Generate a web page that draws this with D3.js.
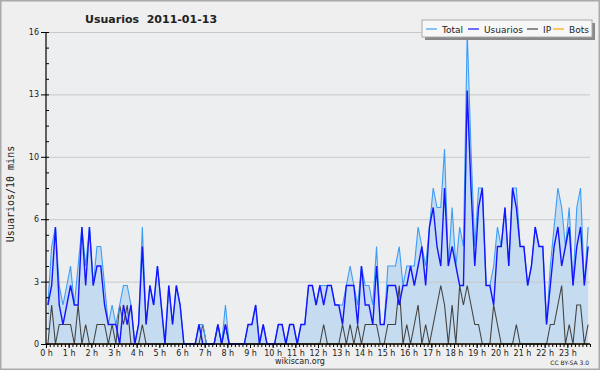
<!DOCTYPE html>
<html>
<head>
<meta charset="utf-8">
<script src="https://cdnjs.cloudflare.com/ajax/libs/d3/7.8.5/d3.min.js"></script>
<style>
  body { margin: 0; background: #fff; }
  svg { display: block; }
  text { font-family: "DejaVu Sans", sans-serif; fill: #222; }
</style>
</head>
<body>
<div id="chart"></div>
<script>
// users per 10 minutes, 2011-01-13 (144 slots, 0:00 .. 23:50)
var total = [2,5,6,3,2,3,4,2,4,6, 4,6,3,5,5,3,1,2,1,2, 3,3,2,0,1,6,1,3,2,4,
             2,0,3,1,3,2,0,0,0,0, 1,1,0,0,0,1,0,2,0,0, 0,0,0,1,1,2,0,1,0,0,
             0,1,1,0,1,1,0,1,1,3, 3,2,3,3,3,3,2,2,2,3, 4,3,2,4,3,3,2,5,1,1,
             4,4,4,5,3,4,4,4,6,5, 4,6,8,7,7,10,4,7,4,6, 5,16,10,5,8,8,3,3,4,6,
             5,7,4,8,8,5,5,3,4,6, 5,5,1,4,6,8,7,5,7,3, 7,8,3,6];
var usuarios = [2,3,6,2,1,2,3,2,2,6, 3,6,3,4,4,2,1,1,1,0, 2,1,2,0,1,5,1,3,2,4,
                2,0,3,1,3,2,0,0,0,0, 1,0,0,0,0,1,0,1,0,0, 0,0,0,1,1,2,0,1,0,0,
                0,1,1,0,1,1,0,1,1,3, 3,2,3,2,3,3,2,2,1,3, 3,3,1,4,2,2,1,4,1,1,
                3,3,3,2,3,3,4,3,4,5, 3,6,7,5,4,8,4,5,4,3, 3,13,8,4,7,8,3,3,2,5,
                5,7,4,8,7,5,5,3,4,6, 5,5,1,3,5,6,4,5,6,3, 5,6,3,5];
var ip = [0,2,0,1,1,1,1,0,2,0, 1,0,0,1,1,1,0,1,0,2, 1,2,0,0,0,1,0,0,0,0,
          0,0,0,0,0,0,0,0,0,0, 0,1,0,0,0,1,0,1,0,0, 0,0,0,0,0,0,0,0,0,0,
          0,0,0,0,0,0,0,0,0,0, 0,0,0,1,0,0,0,0,1,0, 1,0,1,0,1,1,1,1,0,0,
          1,1,1,3,0,1,0,1,2,0, 1,0,1,2,3,2,0,2,0,3, 2,3,2,1,1,0,0,0,2,1,
          0,0,0,0,1,0,0,0,0,0, 0,0,0,1,1,2,3,0,1,0, 2,2,0,1];
var bots = [0,0,0,0,0,0,0,0,0,0, 0,0,0,0,0,0,0,0,0,0, 0,0,0,0,0,0,0,0,0,0,
            0,0,0,0,0,0,0,0,0,0, 0,0,0,0,0,0,0,0,0,0, 0,0,0,0,0,0,0,0,0,0,
            0,0,0,0,0,0,0,0,0,0, 0,0,0,0,0,0,0,0,0,0, 0,0,0,0,0,0,0,0,0,0,
            0,0,0,0,0,0,0,0,0,0, 0,0,0,0,0,0,0,0,0,0, 0,0,0,0,0,0,0,0,0,0,
            0,0,0,0,0,0,0,0,0,0, 0,0,0,0,0,0,0,0,0,0, 0,0,0,0];

var hourLabels = ["0 h","1 h","2 h","3 h","4 h","5 h","6 h","7 h","8 h","9 h","10 h","11 h",
                  "12 h","13 h","14 h","15 h","16 h","17 h","18 h","19 h","20 h","21 h","22 h","23 h"];
var yTickValues = [0, 3.2, 6.4, 9.6, 12.8, 16];
var yTickLabels = ["0", "3", "6", "10", "13", "16"];
var seriesNames = ["Total", "Usuarios", "IP", "Bots"];

var W = 600, H = 370;
var margin = { top: 32, right: 10, bottom: 26, left: 46 },
    width = W - margin.left - margin.right,
    height = H - margin.top - margin.bottom;

var color = d3.scaleOrdinal()
    .domain(seriesNames)
    .range(["#3d9df5", "#1414ff", "#444444", "#ffa500"]);

var svg = d3.select("#chart")
    .append("svg")
    .attr("width", W)
    .attr("height", H);

// outer background + frame
svg.append("rect")
    .attr("x", 0.75).attr("y", 0.75)
    .attr("width", W - 1.5).attr("height", H - 1.5)
    .attr("fill", "#efefef")
    .attr("stroke", "#aaaaaa")
    .attr("stroke-width", 1.5);

var g = svg.append("g")
    .attr("transform", "translate(" + margin.left + "," + margin.top + ")");

// plot area background
g.append("rect")
    .attr("width", width).attr("height", height)
    .attr("fill", "#eceef0");

// x in 10 minute slots, points sit in the middle of each slot
var x = d3.scaleLinear().domain([0, 144]).range([0, width]);
var y = d3.scaleLinear().domain([0, 16]).range([height, 0]);

// filled area under Total
g.append("path")
    .datum(total)
    .attr("fill", "#c5dcf0")
    .attr("d", d3.area()
        .x(function (d, i) { return x(i + 0.5); })
        .y0(height)
        .y1(function (d) { return y(d); }));

// horizontal gridlines
g.append("g")
    .attr("class", "grid")
    .call(d3.axisLeft(y)
        .tickValues(yTickValues.slice(1))
        .tickSize(-width)
        .tickFormat(""))
    .call(function (s) {
        s.select(".domain").remove();
        s.selectAll("line").attr("stroke", "#c8c8c8");
    });

// lines (bots first so they sit underneath)
var line = d3.line()
    .x(function (d, i) { return x(i + 0.5); })
    .y(function (d) { return y(d); });

var series = [
    { key: "Bots", values: bots, w: 1 },
    { key: "IP", values: ip, w: 1.1 },
    { key: "Total", values: total, w: 1.1 },
    { key: "Usuarios", values: usuarios, w: 1.4 }
];

g.selectAll(".line")
    .data(series)
    .enter()
    .append("path")
    .attr("fill", "none")
    .attr("stroke", function (d) { return color(d.key); })
    .attr("stroke-width", function (d) { return d.w; })
    .attr("stroke-linejoin", "miter")
    .attr("d", function (d) { return line(d.values); });

// Y axis: labelled ticks outside, minor ticks inside
var yAxis = g.append("g")
    .call(d3.axisLeft(y)
        .tickValues(yTickValues)
        .tickSize(5)
        .tickPadding(2)
        .tickFormat(function (d, i) { return yTickLabels[i]; }));
yAxis.select(".domain").attr("stroke", "#000").attr("stroke-width", 1.2).attr("d", "M0,0V" + height);
yAxis.selectAll("text").style("font-size", "8px").attr("fill", "#222");

g.append("g")
    .call(d3.axisRight(y)
        .tickValues(d3.range(0, 16.01, 0.8))
        .tickSize(3)
        .tickFormat(""))
    .call(function (s) { s.select(".domain").remove(); });

// X axis: 10 minute ticks, hour labels
var xAxis = g.append("g")
    .attr("transform", "translate(0," + height + ")")
    .call(d3.axisBottom(x)
        .tickValues(d3.range(0, 145, 1))
        .tickSize(3)
        .tickFormat(""));
xAxis.select(".domain").attr("stroke", "#000").attr("stroke-width", 1.4).attr("d", "M0,0H" + width);

g.append("g")
    .attr("transform", "translate(0," + height + ")")
    .call(d3.axisBottom(x)
        .tickValues(d3.range(0, 144, 6))
        .tickSize(4)
        .tickPadding(2)
        .tickFormat(function (d) { return hourLabels[d / 6]; }))
    .call(function (s) {
        s.select(".domain").remove();
        s.selectAll("text").style("font-size", "8px").attr("fill", "#222");
    });

// title
svg.append("text")
    .attr("x", 85)
    .attr("y", 23)
    .style("font-size", "11px")
    .style("font-weight", "bold")
    .attr("xml:space", "preserve")
    .text("Usuarios  2011-01-13");

// Y axis label
svg.append("text")
    .attr("transform", "translate(14," + (margin.top + height / 2 + 6) + ") rotate(-90)")
    .attr("text-anchor", "middle")
    .style("font-family", "'DejaVu Sans Mono', monospace")
    .style("font-size", "10px")
    .text("Usuarios/10 mins");

// footer
svg.append("text")
    .attr("x", 300)
    .attr("y", 364)
    .attr("text-anchor", "middle")
    .style("font-size", "8px")
    .text("wikiscan.org");

svg.append("text")
    .attr("x", 589)
    .attr("y", 365)
    .attr("text-anchor", "end")
    .style("font-size", "6px")
    .text("CC BY-SA 3.0");

// legend box with shadow
var lg = svg.append("g").attr("transform", "translate(422,20)");
lg.append("rect")
    .attr("x", 3).attr("y", 3).attr("width", 170).attr("height", 17)
    .attr("fill", "#888");
lg.append("rect")
    .attr("x", 0).attr("y", 0).attr("width", 170).attr("height", 17)
    .attr("fill", "#f7f7f7")
    .attr("stroke", "#aaa");

var legendX = [4, 46, 105, 131];
var item = lg.selectAll(".item")
    .data(seriesNames)
    .enter()
    .append("g")
    .attr("transform", function (d, i) { return "translate(" + legendX[i] + ",0)"; });
item.append("line")
    .attr("x1", 0).attr("x2", 11)
    .attr("y1", 9).attr("y2", 9)
    .attr("stroke", function (d) { return color(d); })
    .attr("stroke-width", 1.2);
item.append("text")
    .attr("x", 16)
    .attr("y", 12.5)
    .style("font-size", "9px")
    .text(function (d) { return d; });
</script>
</body>
</html>
